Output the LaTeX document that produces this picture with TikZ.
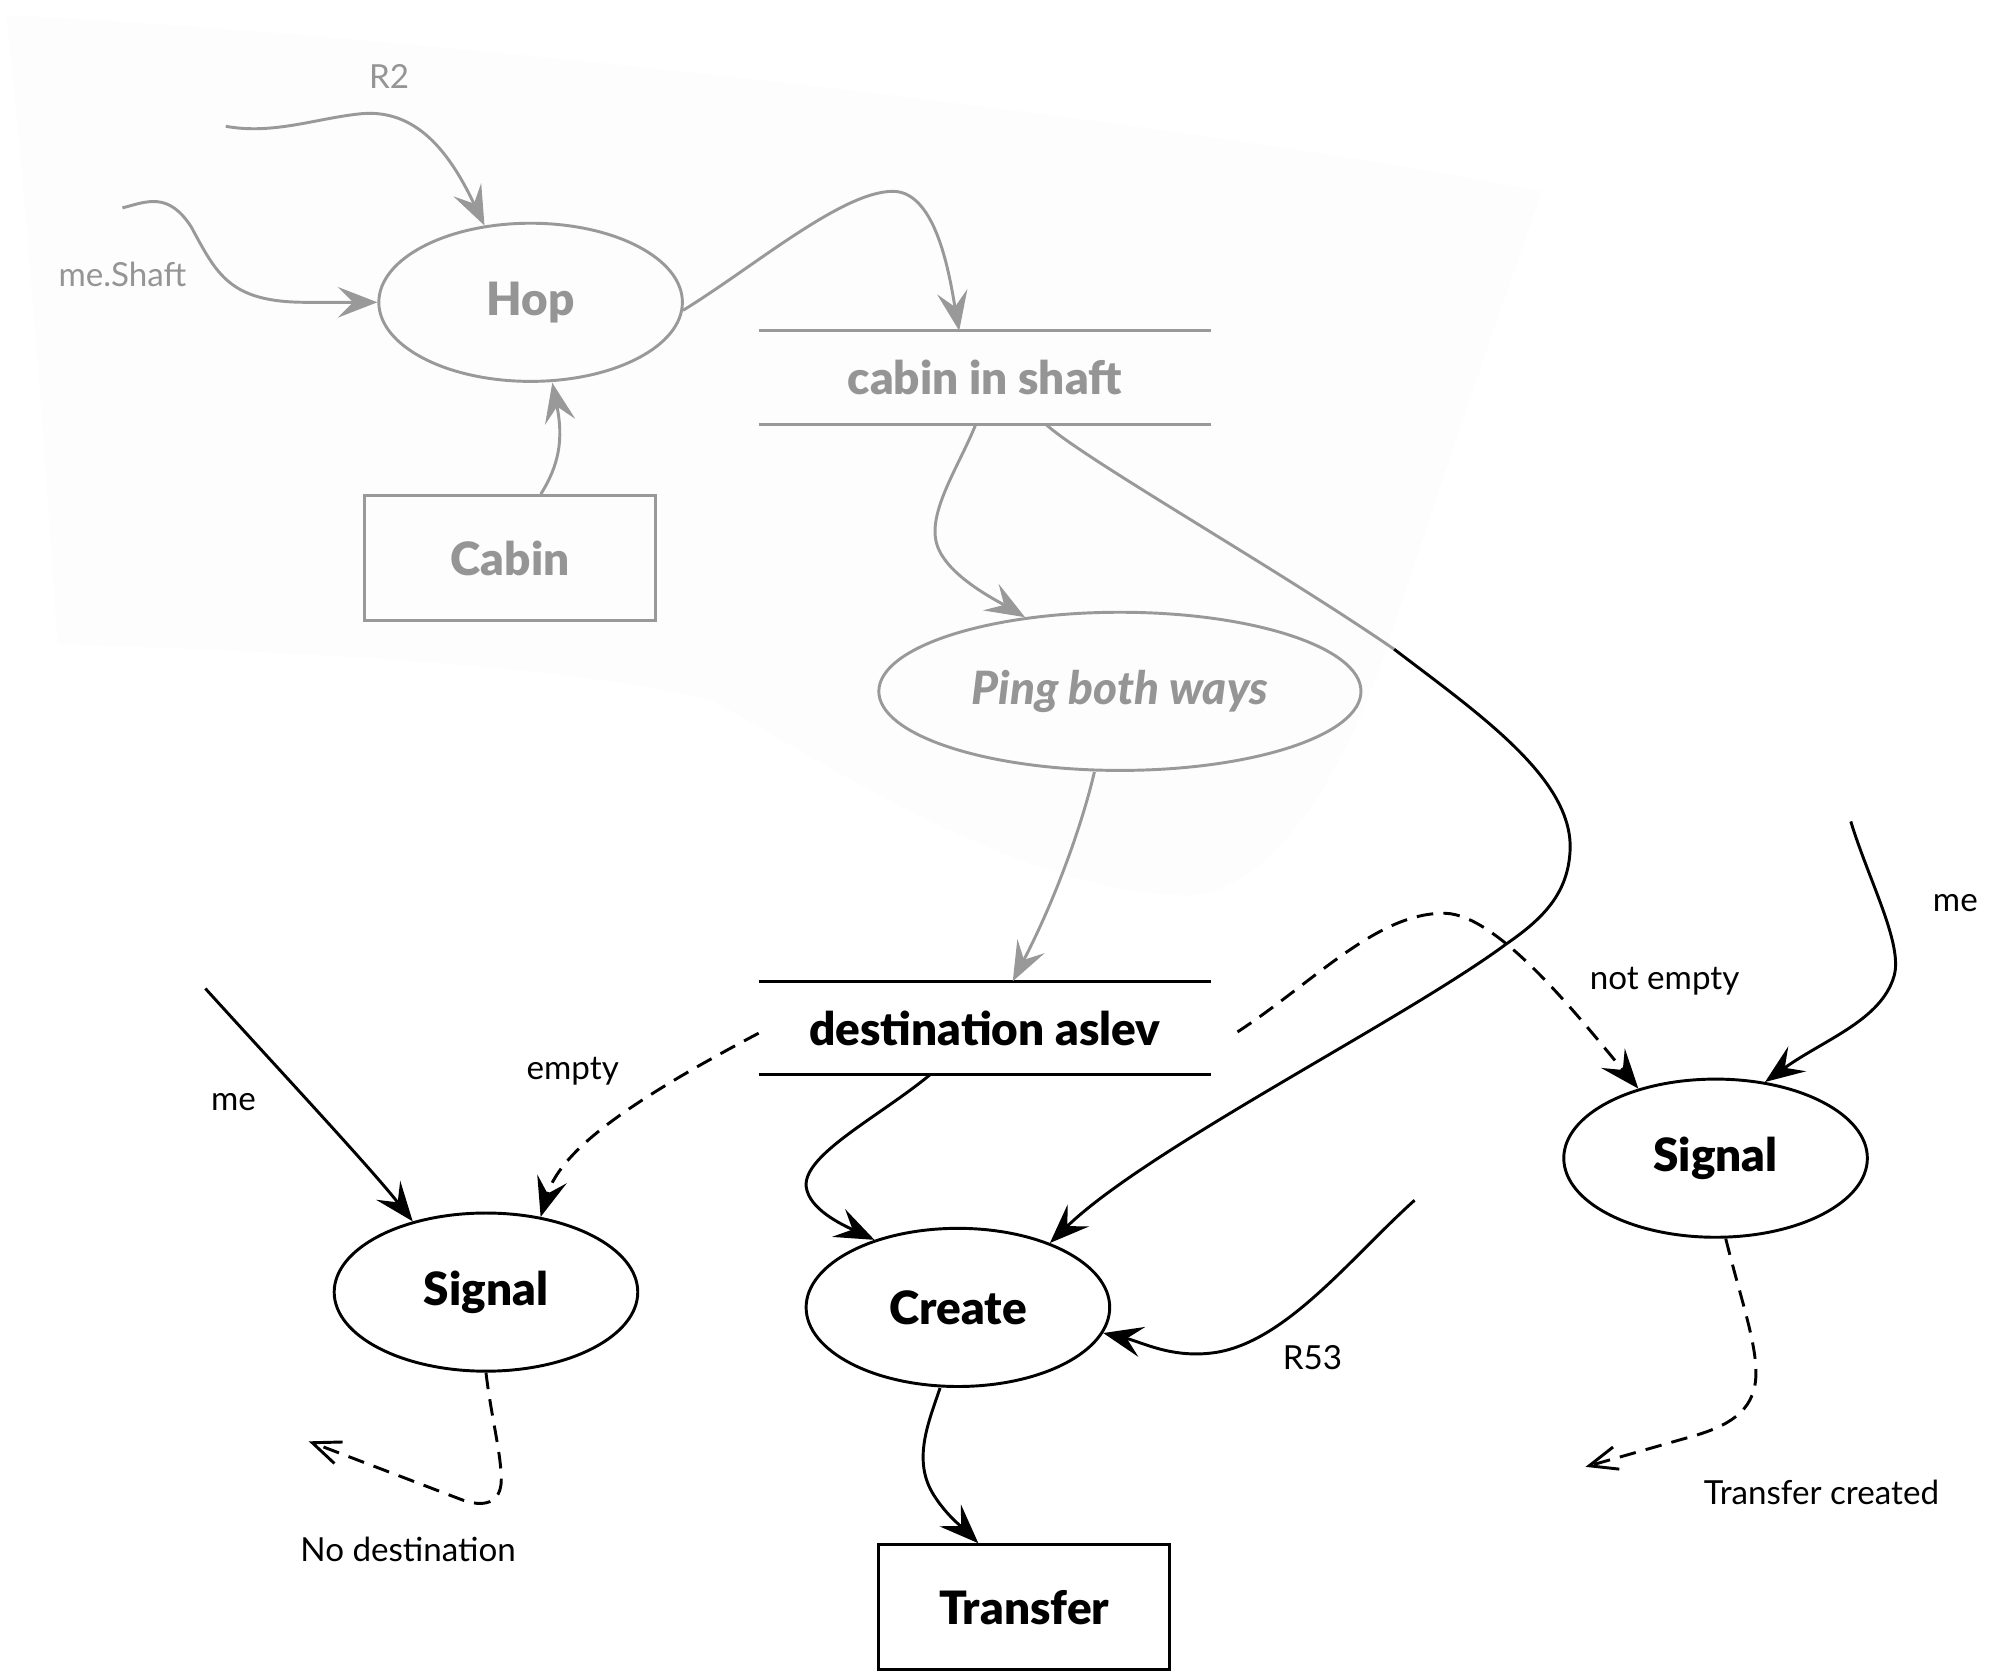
\documentclass[tikz,border=0pt]{standalone}
\usepackage{fontspec}
\setmainfont{Lato}[BoldFont={Lato Black},BoldItalicFont={Lato Black Italic}]
\usetikzlibrary{shapes.geometric,arrows.meta}
\definecolor{fade}{HTML}{999999}
\definecolor{fadetext}{HTML}{959595}
\definecolor{bgblob}{HTML}{FDFDFD}
\tikzset{
  nodefont/.style={font=\fontsize{36}{41}\selectfont\bfseries},
  ell/.style={ellipse, draw, line width=2.3pt, minimum width=238pt, minimum height=124pt, inner sep=0pt, nodefont},
  boxn/.style={rectangle, draw, line width=2.3pt, minimum width=228pt, minimum height=98pt, inner sep=0pt, nodefont},
  storen/.style={rectangle, minimum width=354pt, minimum height=73pt, inner sep=0pt, nodefont},
  faded/.style={draw=fade, text=fadetext},
  lbl/.style={font=\fontsize{26}{30}\selectfont, inner sep=0pt},
  conn/.style={line width=2.3pt, -{Stealth[length=31pt,width=24pt,inset=12pt]}},
  fconn/.style={conn, draw=fade},
  dconn/.style={conn, dash pattern=on 13pt off 8pt},
  oconn/.style={line width=2.3pt, dash pattern=on 13pt off 8pt, -{Straight Barb[length=22pt,width=18pt,line width=2.3pt]}},
}
\begin{document}
\begin{tikzpicture}[x=1pt,y=-1pt]
\useasboundingbox (0,0) rectangle (1568,1312);
% faint background region
\fill[bgblob] (5,12) .. controls (300,25) and (900,90) .. (1209,150)
  .. controls (1170,260) and (1130,380) .. (1094,486)
  .. controls (1060,600) and (1000,700) .. (930,702)
  .. controls (800,700) and (650,600) .. (560,550)
  .. controls (450,520) and (200,510) .. (45,505)
  .. controls (35,350) and (20,150) .. (5,12) -- cycle;

% nodes (faded)
\node[ell, faded] (hop) at (416,237) {Hop};
\node[boxn, faded] (cabin) at (400,437.5) {Cabin};
\node[storen, text=fadetext] (cis) at (772,296) {cabin in shaft};
\draw[fade, line width=2.3pt] (cis.north west) -- (cis.north east) (cis.south west) -- (cis.south east);
\node[ell, faded, minimum width=378pt, font=\fontsize{36}{41}\selectfont\bfseries\itshape] (ping) at (878,542) {Ping both ways};

% nodes (black)
\node[storen] (dest) at (772,806) {destination aslev};
\draw[line width=2.3pt] (dest.north west) -- (dest.north east) (dest.south west) -- (dest.south east);
\node[ell] (sigL) at (381,1013) {Signal};
\node[ell] (create) at (751,1025) {Create};
\node[ell] (sigR) at (1345,908) {Signal};
\node[boxn] (transfer) at (803,1260) {Transfer};

% labels
\node[lbl, text=fadetext] (lR2) at (305,60) {R2};
\node[lbl, text=fadetext] (lshaft) at (96,215) {me.Shaft};
\node[lbl] (lme1) at (183,864) {me};
\node[lbl] (lempty) at (449,840) {empty};
\node[lbl] (lnotempty) at (1305,769) {not empty};
\node[lbl] (lme2) at (1533,708) {me};
\node[lbl] (lR53) at (1029,1064) {R53};
\node[lbl] (lnodest) at (320,1215) {No destination};
\node[lbl] (ltc) at (1428,1170) {Transfer created};

% free ends
\coordinate (r2s) at (177,99);
\coordinate (shs) at (96,163);
\coordinate (me1s) at (161,775);
\coordinate (me2s) at (1451,644);
\coordinate (r53s) at (1109,941);
\coordinate (nd) at (242,1130);
\coordinate (tc) at (1243,1150);
\coordinate (mid) at (1093,509);

% faded connectors
\draw[fconn] (r2s) .. controls (215,106) and (250,92) .. (285,89)
  .. controls (330,86) and (355,125) .. (hop.121);
\draw[fconn] (shs) .. controls (115,158) and (132,150) .. (150,178)
  .. controls (170,215) and (180,237) .. (240,237) -- (hop.west);
\draw[fconn] ([xshift=24]cabin.north) .. controls (438,365) and (442,345) .. ([xshift=17]hop.south);
\draw[fconn] (hop.-3) .. controls (590,210) and (660,150) .. (700,150)
  .. controls (735,150) and (745,220) .. ([xshift=-20]cis.north);
\draw[fconn] ([xshift=-7]cis.south) .. controls (752,365) and (728,400) .. (734,425)
  .. controls (740,450) and (780,470) .. (ping.142);
\draw[fade, line width=2.3pt] ([xshift=48]cis.south) .. controls (850,360) and (1000,445) .. (mid);
\draw[fconn] ([xshift=-20]ping.south) .. controls (850,640) and (830,700) .. ([xshift=22]dest.north);

% black connectors
\draw[conn] (mid) .. controls (1160,560) and (1232,610) .. (1231,665)
  .. controls (1230,700) and (1210,720) .. (1181,740)
  .. controls (1100,800) and (900,900) .. (create.35);
\draw[conn] ([xshift=-43]dest.south) .. controls (690,875) and (630,905) .. (632,930)
  .. controls (634,948) and (660,960) .. (create.141);
\draw[dconn] ([yshift=-4]dest.west) .. controls (500,860) and (440,900) .. (sigL.54);
\draw[dconn] ([xshift=21,yshift=-3]dest.east) .. controls (1030,770) and (1080,715) .. (1133,716)
  .. controls (1175,717) and (1240,800) .. (sigR.138);
\draw[conn] (me1s) .. controls (220,840) and (290,915) .. (sigL.136);
\draw[conn] (me2s) .. controls (1465,690) and (1492,740) .. (1485,765)
  .. controls (1475,800) and (1430,815) .. (sigR.57);
\draw[conn] (r53s) .. controls (1060,985) and (1010,1050) .. (955,1060)
  .. controls (920,1066) and (895,1052) .. (create.-10);
\draw[conn] ([xshift=-14]create.south) .. controls (728,1115) and (715,1145) .. (732,1172)
  .. controls (742,1188) and (755,1198) .. ([xshift=-36]transfer.north);
\draw[oconn] (sigL.south) .. controls (385,1110) and (393,1140) .. (393,1160)
  .. controls (393,1178) and (380,1183) .. (360,1175) -- (nd);
\draw[oconn] ([xshift=8]sigR.south) .. controls (1365,1020) and (1380,1060) .. (1376,1085)
  .. controls (1372,1110) and (1350,1120) .. (1320,1128) -- (tc);
\end{tikzpicture}
\end{document}
